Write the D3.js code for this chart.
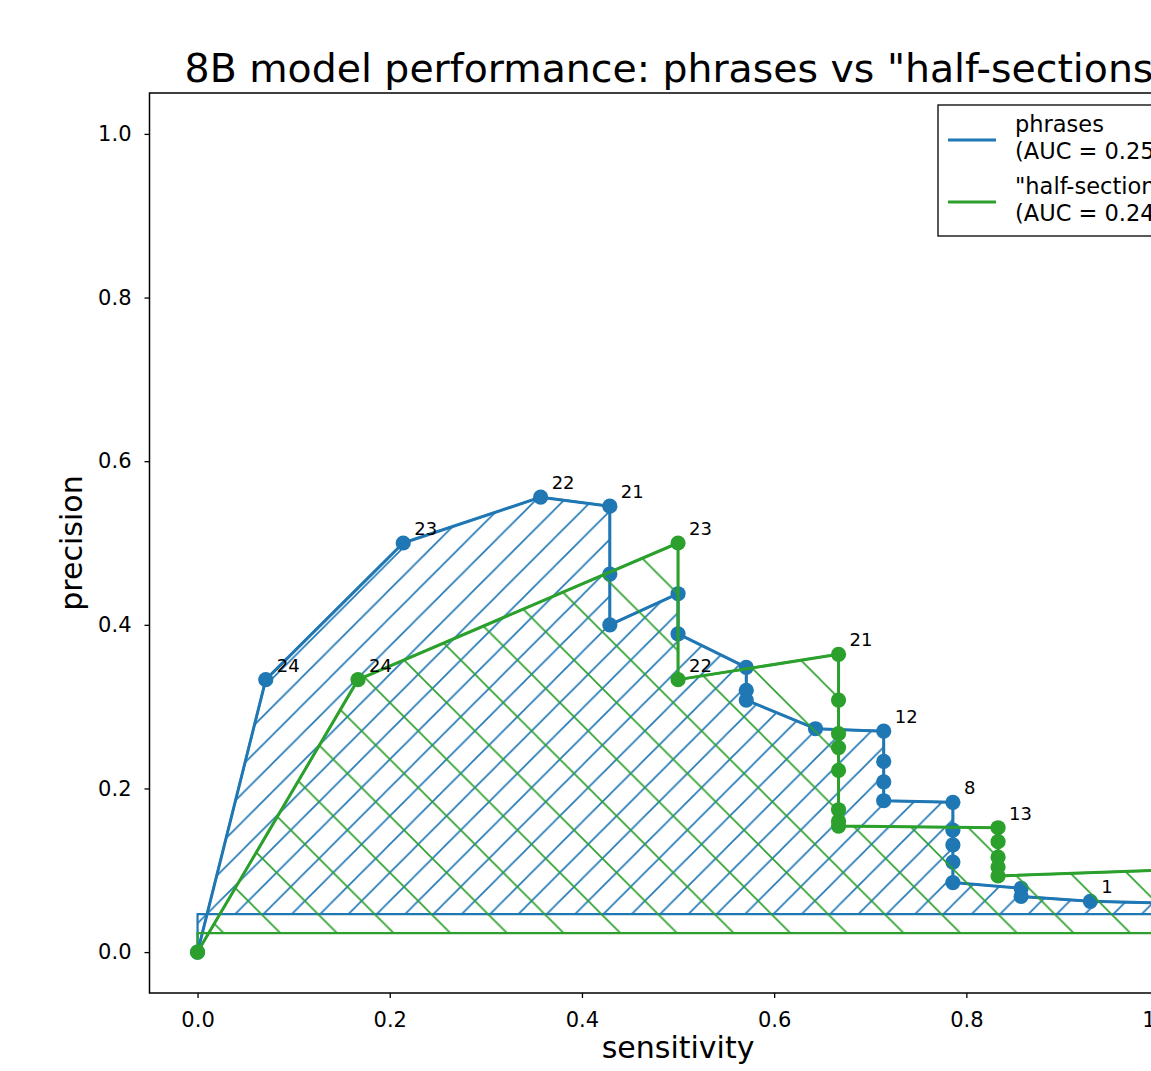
<!DOCTYPE html>
<html lang="en">
<head>
<meta charset="UTF-8">
<title>8B model performance</title>
<script src="https://d3js.org/d3.v7.min.js"></script>
<style>
  html, body { margin: 0; padding: 0; overflow: hidden; background: #fff; }
  svg { display: block; font-family: "DejaVu Sans", sans-serif; }
</style>
</head>
<body>
<svg id="chart" width="1260" height="1071"></svg>
<script>
// values
var sensPhrases = [0, .071, .214, .357, .429, .429, .429, .5, .5, .571, .571, .571, .643,
  .714, .714, .714, .714, .786, .786, .786, .786, .786, .857, .857, .929, 1, 1];
var precPhrases = [0, .333, .5, .556, .545, .462, .4, .438, .389, .348, .32, .308, .273,
  .27, .233, .208, .185, .183, .149, .131, .11, .085, .078, .068, .062, .06, .054];
var sensHalf = [0, .167, .5, .5, .667, .667, .667, .667, .667, .667, .667, .667,
  .833, .833, .833, .833, .833, 1, 1, 1, 1, 1, 1, 1, 1, 1, 1];
var precHalf = [0, .333, .5, .333, .364, .308, .267, .25, .222, .174, .16, .154,
  .152, .135, .116, .104, .093, .1, .081, .071, .06, .046, .039, .034, .029, .026, .023];
// threshold for each point (first point is the origin)
var thresholds = [null, 24, 23, 22, 21, 20, 19, 18, 17, 16, 15, 14, 13, 12, 11, 10, 9, 8, 7, 6, 5, 4, 3, 2, 1, 0, -1];
var labelsPhrases = [24, 23, 22, 21, 12, 8, 1];
var labelsHalf = [24, 23, 22, 21, 13];
var basePhrases = 0.0465, baseHalf = 0.0232;
var legendNames = [["phrases", "(AUC = 0.252)"], ["\"half-sections\"", "(AUC = 0.243)"]];
var xTicks = [0, 0.2, 0.4, 0.6, 0.8, 1.0];
var yTicks = [0, 0.2, 0.4, 0.6, 0.8, 1.0];

var blue = "#1f77b4", green = "#2ca02c";

var svg = d3.select("#chart");
var pLeft = 149.5, pRight = 1206.6, pTop = 93, pBottom = 993;

var x = d3.scaleLinear().domain([-0.05, 1.05]).range([pLeft, pRight]);
var y = d3.scaleLinear().domain([-0.05, 1.05]).range([pBottom, pTop]);

// hatch patterns (anchored in page space like matplotlib)
var defs = svg.append("defs");
var pb = 28.33;
defs.append("pattern").attr("id", "hatchBlue")
  .attr("patternUnits", "userSpaceOnUse")
  .attr("x", 16).attr("y", 0).attr("width", pb).attr("height", pb)
  .append("path")
  .attr("d", "M0," + pb + "L" + pb + ",0M-2,2L2,-2M" + (pb - 2) + "," + (pb + 2) + "L" + (pb + 2) + "," + (pb - 2))
  .attr("stroke", blue).attr("stroke-width", 1.6);
var pg = 56.67;
defs.append("pattern").attr("id", "hatchGreen")
  .attr("patternUnits", "userSpaceOnUse")
  .attr("x", 27.3).attr("y", 0).attr("width", pg).attr("height", pg)
  .append("path")
  .attr("d", "M0,0L" + pg + "," + pg + "M-2," + (pg - 2) + "L2," + (pg + 2) + "M" + (pg - 2) + ",-2L" + (pg + 2) + ",2")
  .attr("stroke", green).attr("stroke-width", 1.6);

defs.append("clipPath").attr("id", "clip")
  .append("rect").attr("x", pLeft).attr("y", pTop)
  .attr("width", pRight - pLeft).attr("height", pBottom - pTop);

var plot = svg.append("g").attr("clip-path", "url(#clip)");

var line = d3.line().x(function (d) { return x(d.s); }).y(function (d) { return y(d.p); });

function drawSeries(sens, prec, base, color, hatch, labels) {
  var pts = sens.map(function (s, i) { return { s: s, p: prec[i], t: thresholds[i] }; });
  var poly = [{ s: sens[0], p: base }].concat(pts, [{ s: sens[sens.length - 1], p: base }]);

  plot.append("path")
    .attr("d", line(poly) + "Z")
    .attr("fill", "url(#" + hatch + ")")
    .attr("stroke", color).attr("stroke-width", 2.2);

  plot.append("path").datum(pts)
    .attr("d", line)
    .attr("fill", "none").attr("stroke", color).attr("stroke-width", 3)
    .attr("stroke-linejoin", "round");

  plot.selectAll(null).data(pts).enter().append("circle")
    .attr("cx", function (d) { return x(d.s); })
    .attr("cy", function (d) { return y(d.p); })
    .attr("r", 7.6).attr("fill", color);

  plot.selectAll(null).data(pts.filter(function (d) { return labels.indexOf(d.t) >= 0; }))
    .enter().append("text")
    .attr("x", function (d) { return x(d.s) + 11; })
    .attr("y", function (d) { return y(d.p) - 8; })
    .attr("font-size", 18).attr("fill", "#000")
    .text(function (d) { return d.t; });
}

drawSeries(sensPhrases, precPhrases, basePhrases, blue, "hatchBlue", labelsPhrases);
drawSeries(sensHalf, precHalf, baseHalf, green, "hatchGreen", labelsHalf);

// axes
var xAxis = svg.append("g").attr("transform", "translate(0," + pBottom + ")")
  .call(d3.axisBottom(x).tickValues(xTicks).tickFormat(d3.format(".1f")).tickSize(5).tickPadding(14));
var yAxis = svg.append("g").attr("transform", "translate(" + pLeft + ",0)")
  .call(d3.axisLeft(y).tickValues(yTicks).tickFormat(d3.format(".1f")).tickSize(5).tickPadding(13));
[xAxis, yAxis].forEach(function (a) {
  a.select(".domain").remove();
  a.selectAll("line").attr("stroke", "#000").attr("stroke-width", 1.3);
  a.selectAll("text").attr("font-size", 21).attr("font-family", "DejaVu Sans").attr("fill", "#000");
});

svg.append("rect").attr("x", pLeft).attr("y", pTop)
  .attr("width", pRight - pLeft).attr("height", pBottom - pTop)
  .attr("fill", "none").attr("stroke", "#000").attr("stroke-width", 1.5);

// titles
svg.append("text").attr("x", (pLeft + pRight) / 2).attr("y", 82)
  .attr("text-anchor", "middle").attr("font-size", 39.4)
  .text("8B model performance: phrases vs \"half-sections\"");
svg.append("text").attr("x", (pLeft + pRight) / 2).attr("y", 1058)
  .attr("text-anchor", "middle").attr("font-size", 30).text("sensitivity");
svg.append("text").attr("transform", "translate(82," + (pTop + pBottom) / 2 + ") rotate(-90)")
  .attr("text-anchor", "middle").attr("font-size", 30).text("precision");

// legend
var legend = svg.append("g");
legend.append("rect").attr("x", 938).attr("y", 105).attr("width", 258).attr("height", 131)
  .attr("fill", "#fff").attr("stroke", "#000").attr("stroke-width", 1.3);
var legColors = [blue, green];
legendNames.forEach(function (n, i) {
  var by = 132 + i * 62;
  legend.append("line").attr("x1", 948).attr("x2", 996)
    .attr("y1", by + 8).attr("y2", by + 8)
    .attr("stroke", legColors[i]).attr("stroke-width", 3);
  legend.append("text").attr("x", 1015).attr("y", by).attr("font-size", 22.5).text(n[0]);
  legend.append("text").attr("x", 1015).attr("y", by + 27).attr("font-size", 22.5).text(n[1]);
});
</script>
</body>
</html>
